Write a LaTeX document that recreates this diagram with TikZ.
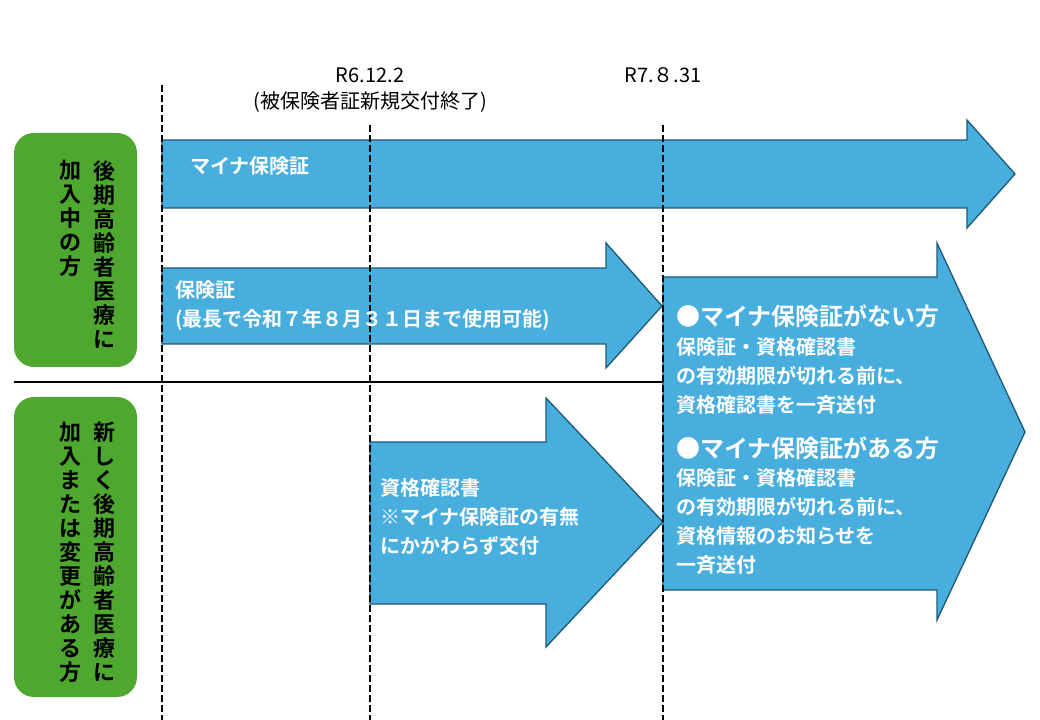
\documentclass[tikz,border=0pt]{standalone}
\usepackage{fontspec}
\setmainfont{Noto Sans CJK JP}
\newfontfamily\jpb{Noto Sans CJK JP Bold}
\begin{document}
\begin{tikzpicture}[x=0.75pt,y=-0.75pt,
  arr/.style={fill={rgb,255:red,71;green,174;blue,222},draw={rgb,255:red,30;green,90;blue,120},line width=1pt},
  grn/.style={fill={rgb,255:red,78;green,167;blue,46},rounded corners=15pt},
  dl/.style={dashed,line width=1.5pt,dash pattern=on 5pt off 2.5pt},
  wt/.style={text=white,font=\jpb\fontsize{15}{21.8}\selectfont,anchor=west,inner sep=0pt,align=left},
  vt/.style={font=\jpb\fontsize{16.5}{18}\selectfont,anchor=north,inner sep=0pt,align=center},
  lbl/.style={font=\fontsize{15}{18}\selectfont,inner sep=0pt}]
\useasboundingbox (0,0) rectangle (1040,720);
% green boxes
\path[grn] (14,133) rectangle (137,367);
\path[grn] (14,397) rectangle (137,697);
\node[vt] (g1r) at (104,160) {後\\期\\高\\齢\\者\\医\\療\\に};
\node[vt] (g1l) at (70,160) {加\\入\\中\\の\\方};
\node[vt] (g2r) at (104,422) {新\\し\\く\\後\\期\\高\\齢\\者\\医\\療\\に};
\node[vt] (g2l) at (70,422) {加\\入\\ま\\た\\は\\変\\更\\が\\あ\\る\\方};
% arrows
\draw[arr] (162,140) -- (967,140) -- (967,120) -- (1015,174) -- (967,228) -- (967,208) -- (162,208) -- cycle;
\draw[arr] (162,268) -- (606,268) -- (606,243) -- (662,306) -- (606,368) -- (606,344) -- (162,344) -- cycle;
\draw[arr] (370,442) -- (546,442) -- (546,398) -- (663,522) -- (546,647) -- (546,604) -- (370,604) -- cycle;
\draw[arr] (663,277) -- (937,277) -- (937,243) -- (1025,432) -- (937,620) -- (937,590) -- (663,590) -- cycle;
% lines
\draw[dl] (162,85) -- (162,720);
\draw[dl] (370,125) -- (370,720);
\draw[dl] (663,125) -- (663,720);
\draw[line width=1pt] (14,382) -- (663,382);
% labels
\node[lbl] (d1) at (370,75) {R6.12.2};
\node[lbl] (d1b) at (370,102) {(被保険者証新規交付終了)};
\node[lbl] (d2) at (663,75) {R7.８.31};
\node[wt] (t1) at (190,166) {マイナ保険証};
\node[wt,anchor=north west] (t2) at (175,280) {保険証\\(最長で令和７年８月３１日まで使用可能)};
\node[wt,anchor=north west] (t3) at (380,478) {資格確認書\\※マイナ保険証の有無\\にかかわらず交付};
\node[wt,anchor=north west,font=\jpb\fontsize{18}{21.8}\selectfont] (h1) at (676,304) {●マイナ保険証がない方};
\node[wt,anchor=north west] (b1) at (676,337) {保険証・資格確認書\\の有効期限が切れる前に、\\資格確認書を一斉送付};
\node[wt,anchor=north west,font=\jpb\fontsize{18}{21.8}\selectfont] (h2) at (676,436) {●マイナ保険証がある方};
\node[wt,anchor=north west] (b2) at (676,468) {保険証・資格確認書\\の有効期限が切れる前に、\\資格情報のお知らせを\\一斉送付};
\end{tikzpicture}
\end{document}
